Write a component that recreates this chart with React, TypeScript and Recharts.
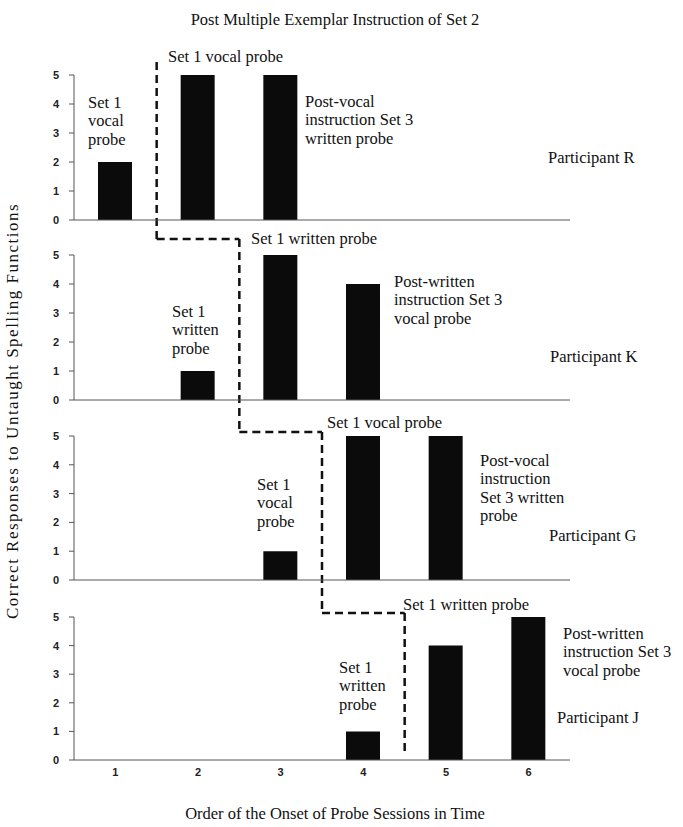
import { BarChart, Bar, XAxis, YAxis, ReferenceLine } from "recharts"

const sessions = [1, 2, 3, 4, 5, 6]
const participantR = [2, 5, 5, null, null, null]
const participantK = [null, 1, 5, 4, null, null]
const participantG = [null, null, 1, 5, 5, null]
const participantJ = [null, null, null, 1, 4, 5]
const yTicks = [0, 1, 2, 3, 4, 5]
const boundaryTicks = [0.5, 1.5, 2.5, 3.5, 4.5, 5.5, 6.5]
const phaseChange = [1.5, 2.5, 3.5, 4.5]

const SERIF = "'Liberation Serif', 'Times New Roman', serif"
const SANS = "'Liberation Sans', Arial, sans-serif"
const FS = 16.5
const LH = 18.5

// y5 = pixel of the "5" tick, y0 = pixel of the x axis
const panels = [
  { name: "R", values: participantR, y5: 75, y0: 220, dashTop: 5.45, dashBottom: -0.66 },
  { name: "K", values: participantK, y5: 255, y0: 400, dashTop: 5.55, dashBottom: -1.1 },
  { name: "G", values: participantG, y5: 436, y0: 580, dashTop: 5.14, dashBottom: -1.15 },
  { name: "J", values: participantJ, y5: 617, y0: 760, dashTop: 5.14, dashBottom: 0.17 },
]

const notes = [
  { lines: ["Set 1 vocal probe"], left: 168, cy: 57 },
  { lines: ["Set 1", "vocal", "probe"], left: 88, cy: 103 },
  { lines: ["Post-vocal", "instruction Set 3", "written probe"], left: 305, cy: 102 },
  { lines: ["Participant R"], left: 548, cy: 158 },
  { lines: ["Set 1 written probe"], left: 251, cy: 239 },
  { lines: ["Set 1", "written", "probe"], left: 172, cy: 312 },
  { lines: ["Post-written", "instruction Set 3", "vocal probe"], left: 394, cy: 282 },
  { lines: ["Participant K"], left: 550, cy: 357 },
  { lines: ["Set 1 vocal probe"], left: 327, cy: 423 },
  { lines: ["Set 1", "vocal", "probe"], left: 257, cy: 485 },
  { lines: ["Post-vocal", "instruction", "Set 3 written", "probe"], left: 480, cy: 461 },
  { lines: ["Participant G"], left: 549, cy: 536 },
  { lines: ["Set 1 written probe"], left: 403, cy: 605 },
  { lines: ["Set 1", "written", "probe"], left: 339, cy: 668 },
  { lines: ["Post-written", "instruction Set 3", "vocal probe"], left: 563, cy: 634 },
  { lines: ["Participant J"], left: 557, cy: 718 },
]

const dash = { stroke: "#111", strokeWidth: 2.5, strokeDasharray: "8 5" }

function Panel({ index }: { index: number }) {
  const p = panels[index]
  const data = sessions.map((s, i) => ({ session: s, value: p.values[i] }))
  const topPad = 50
  const bottomPad = 60
  const last = index === panels.length - 1
  return (
    <div style={{ position: "absolute", left: 0, top: p.y5 - topPad }}>
      <BarChart
        width={683}
        height={p.y0 - p.y5 + topPad + bottomPad}
        data={data}
        margin={{ top: topPad, right: 113, bottom: bottomPad - (last ? 25 : 6), left: 0 }}
        style={{ overflow: "visible" }}
      >
        <XAxis
          dataKey="session"
          type="number"
          domain={[0.5, 6.5]}
          ticks={boundaryTicks}
          tick={false}
          tickSize={5}
          height={6}
          stroke="#555"
          allowDataOverflow
        />
        {last && (
          <XAxis
            xAxisId="labels"
            dataKey="session"
            type="number"
            domain={[0.5, 6.5]}
            ticks={sessions}
            axisLine={false}
            tickLine={false}
            tickSize={0}
            tickMargin={2}
            height={19}
            tick={{ fill: "#222", fontSize: 11, fontFamily: SANS, fontWeight: 700 }}
          />
        )}
        <YAxis
          type="number"
          domain={[0, 5]}
          ticks={yTicks}
          width={74}
          tickSize={5}
          tickMargin={10}
          stroke="#555"
          tick={{ fill: "#222", fontSize: 11, fontFamily: SANS, fontWeight: 700 }}
        />
        <Bar dataKey="value" fill="#0b0b0b" barSize={34} isAnimationActive={false} />
        {index > 0 && (
          <ReferenceLine
            segment={[
              { x: phaseChange[index - 1], y: p.dashTop },
              { x: phaseChange[index], y: p.dashTop },
            ]}
            ifOverflow="visible"
            {...dash}
          />
        )}
        <ReferenceLine
          segment={[
            { x: phaseChange[index], y: p.dashTop },
            { x: phaseChange[index], y: p.dashBottom },
          ]}
          ifOverflow="visible"
          {...dash}
        />
      </BarChart>
    </div>
  )
}

export default function App() {
  return (
    <div
      style={{
        position: "absolute",
        left: 0,
        top: 0,
        width: 683,
        height: 827,
        background: "#fff",
        fontFamily: SERIF,
        color: "#111",
        overflow: "hidden",
      }}
    >
      <div style={{ position: "absolute", left: 0, width: 670, top: 10, textAlign: "center", fontSize: FS, lineHeight: "19px" }}>
        Post Multiple Exemplar Instruction of Set 2
      </div>
      {panels.map((p, i) => (
        <Panel key={p.name} index={i} />
      ))}
      {notes.map((n, i) => (
        <div
          key={i}
          style={{
            position: "absolute",
            left: n.left,
            top: n.cy - LH / 2,
            fontSize: FS,
            lineHeight: `${LH}px`,
            whiteSpace: "nowrap",
          }}
        >
          {n.lines.map((l, j) => (
            <div key={j}>{l}</div>
          ))}
        </div>
      ))}
      <div
        style={{
          position: "absolute",
          left: 13,
          top: 411,
          transform: "translate(-50%, -50%) rotate(-90deg)",
          whiteSpace: "nowrap",
          fontSize: 17,
          letterSpacing: 1.5,
        }}
      >
        Correct Responses to Untaught Spelling Functions
      </div>
      <div style={{ position: "absolute", left: 0, width: 670, top: 804, textAlign: "center", fontSize: FS, lineHeight: "19px" }}>
        Order of the Onset of Probe Sessions in Time
      </div>
    </div>
  )
}
